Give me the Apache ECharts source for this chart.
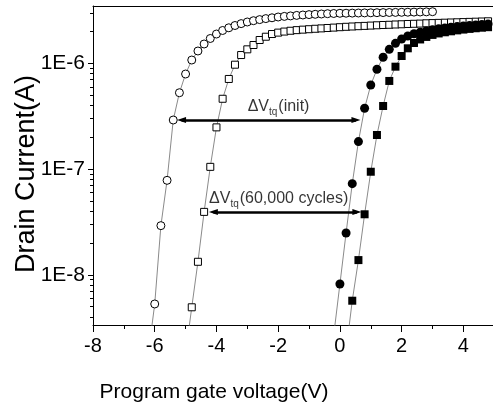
<!DOCTYPE html>
<html><head><meta charset="utf-8">
<script src="https://cdn.jsdelivr.net/npm/echarts@6/dist/echarts.min.js"></script>
<style>html,body{margin:0;padding:0;background:#fff}#c{width:493px;height:405px}</style>
</head><body><div id="c"></div>
<script>
// ---- data (gate voltage V, drain current A) ----
const openCircV = [-6.2,-6.0,-5.8,-5.6,-5.4,-5.2,-5.0,-4.8,-4.6,-4.4,-4.2,-4.0,-3.8,-3.6,-3.4,-3.2,-3.0,-2.8,-2.6,-2.4,-2.2,-2.0,-1.8,-1.6,-1.4,-1.2,-1.0,-0.8,-0.6,-0.4,-0.2,0.0,0.2,0.4,0.6,0.8,1.0,1.2,1.4,1.6,1.8,2.0,2.2,2.4,2.6,2.8,3.0];
const openCircI = [1.86e-9,5.31e-9,2.92e-8,7.83e-8,2.91e-7,5.27e-7,7.92e-7,1.074e-6,1.307e-6,1.522e-6,1.716e-6,1.891e-6,2.042e-6,2.166e-6,2.276e-6,2.372e-6,2.457e-6,2.527e-6,2.588e-6,2.645e-6,2.692e-6,2.739e-6,2.775e-6,2.805e-6,2.836e-6,2.861e-6,2.886e-6,2.905e-6,2.924e-6,2.943e-6,2.956e-6,2.969e-6,2.975e-6,2.982e-6,2.988e-6,2.995e-6,3.001e-6,3.008e-6,3.015e-6,3.021e-6,3.028e-6,3.034e-6,3.041e-6,3.047e-6,3.054e-6,3.064e-6,3.074e-6];

const openSqV = [-5.0,-4.8,-4.6,-4.4,-4.2,-4.0,-3.8,-3.6,-3.4,-3.2,-3.0,-2.8,-2.6,-2.4,-2.2,-2.0,-1.8,-1.6,-1.4,-1.2,-1.0,-0.8,-0.6,-0.4,-0.2,0.0,0.2,0.4,0.6,0.8,1.0,1.2,1.4,1.6,1.8,2.0,2.2,2.4,2.6,2.8,3.0,3.2,3.4,3.6,3.8,4.0,4.2,4.4,4.6,4.8];
const openSqI = [1.8e-9,4.94e-9,1.33e-8,3.94e-8,1.05e-7,2.48e-7,4.62e-7,7.11e-7,9.70e-7,1.197e-6,1.355e-6,1.489e-6,1.660e-6,1.783e-6,1.891e-6,1.950e-6,1.995e-6,2.030e-6,2.058e-6,2.080e-6,2.100e-6,2.120e-6,2.138e-6,2.156e-6,2.175e-6,2.194e-6,2.213e-6,2.228e-6,2.243e-6,2.257e-6,2.272e-6,2.287e-6,2.302e-6,2.312e-6,2.327e-6,2.338e-6,2.353e-6,2.363e-6,2.373e-6,2.389e-6,2.399e-6,2.410e-6,2.420e-6,2.431e-6,2.441e-6,2.452e-6,2.463e-6,2.473e-6,2.484e-6,2.495e-6];

const fillCircV = [-0.2,0.0,0.2,0.4,0.6,0.8,1.0,1.2,1.4,1.6,1.8,2.0,2.2,2.4,2.6,2.8,3.0,3.2,3.4,3.6,3.8,4.0,4.2,4.4,4.6,4.8];
const fillCircI = [2.7e-9,8.20e-9,2.49e-8,7.28e-8,1.82e-7,3.76e-7,6.24e-7,8.78e-7,1.140e-6,1.355e-6,1.545e-6,1.698e-6,1.812e-6,1.900e-6,1.968e-6,2.024e-6,2.073e-6,2.119e-6,2.156e-6,2.189e-6,2.223e-6,2.253e-6,2.277e-6,2.302e-6,2.327e-6,2.353e-6];

const fillSqV = [0.2,0.4,0.6,0.8,1.0,1.2,1.4,1.6,1.8,2.0,2.2,2.4,2.6,2.8,3.0,3.2,3.4,3.6,3.8,4.0,4.2,4.4,4.6,4.8];
const fillSqI = [1.9e-9,5.70e-9,1.38e-8,3.74e-8,9.44e-8,2.10e-7,3.95e-7,6.81e-7,9.29e-7,1.172e-6,1.386e-6,1.556e-6,1.680e-6,1.775e-6,1.854e-6,1.915e-6,1.964e-6,2.006e-6,2.047e-6,2.083e-6,2.114e-6,2.144e-6,2.170e-6,2.194e-6];

// axis ticks
const xMajorTicks = [-8,-6,-4,-2,0,2,4];
const xMinorTicks = [-7,-5,-3,-1,1,3];
const yMajorTicks = [1e-8,1e-7,1e-6];
const yMinorTicks = [4e-9,5e-9,6e-9,7e-9,8e-9,9e-9,2e-8,3e-8,4e-8,5e-8,6e-8,7e-8,8e-8,9e-8,2e-7,3e-7,4e-7,5e-7,6e-7,7e-7,8e-7,9e-7,2e-6,3e-6];
const xRange = [-8, 4.96];
const yRange = [3.36e-9, 3.48e-6];

// annotations: text parts, anchor (V, I), arrow from/to V at current I
const annInit = {main1:'ΔV', sub:'tq', main2:'(init)', V:-2.99, I:3.85e-7, arrowFrom:-5.13, arrowTo:0.52, arrowI:2.91e-7};
const annCyc  = {main1:'ΔV', sub:'tq', main2:'(60,000 cycles)', V:-4.24, I:5.2e-8, arrowFrom:-4.10, arrowTo:0.55, arrowI:3.94e-8};

const lg = Math.log10;
const pairs = (xs, ys) => xs.map((x,i)=>[x, lg(ys[i])]);
const FONT = '"Liberation Sans", Arial, Helvetica, sans-serif';

const chart = echarts.init(document.getElementById('c'), null, {renderer:'canvas'});

function lineSeries(name, xs, ys, symbol, size, filled){
  return {
    name, type:'line', data: pairs(xs, ys), symbol, symbolSize: size,
    clip:true, silent:true, animation:false,
    lineStyle:{color:'#8a8a8a', width:1},
    itemStyle:{color: filled ? '#000' : '#fff', borderColor:'#000', borderWidth: filled ? 0 : 1}
  };
}

const rich = {
  a:{fontSize:16, fontFamily:FONT, color:'#000', lineHeight:18, verticalAlign:'top'},
  s:{fontSize:10, fontFamily:FONT, color:'#000', lineHeight:10, padding:[9,1,0,0], verticalAlign:'top'}
};
function annLabel(a){ return '{a|'+a.main1+'}{s|'+a.sub+'}{a|'+a.main2+'}'; }

const option = {
  animation:false,
  grid:{left:93, right:0, top:6, bottom:80, containLabel:false},
  xAxis:[
    {type:'value', min:xRange[0], max:xRange[1], position:'bottom',
     axisLine:{show:true, onZero:false, lineStyle:{color:'#000', width:1}},
     axisTick:{show:true, inside:false, length:7, customValues:xMajorTicks, lineStyle:{color:'#000', width:1}},
     axisLabel:{customValues:xMajorTicks, fontSize:20, fontFamily:FONT, color:'#000', margin:11,
       formatter:v=>String(v)},
     splitLine:{show:false}},
    {type:'value', min:xRange[0], max:xRange[1], position:'bottom', offset:0,
     axisLine:{show:false, onZero:false}, axisLabel:{show:false}, splitLine:{show:false},
     axisTick:{show:true, length:4, customValues:xMinorTicks, lineStyle:{color:'#000', width:1}}},
    {type:'value', min:xRange[0], max:xRange[1], position:'top', offset:0,
     axisLine:{show:true, onZero:false, lineStyle:{color:'#000', width:1}},
     axisTick:{show:false}, axisLabel:{show:false}, splitLine:{show:false}}
  ],
  yAxis:[
    {type:'value', min:lg(yRange[0]), max:lg(yRange[1]), position:'left',
     axisLine:{show:true, onZero:false, lineStyle:{color:'#000', width:1}},
     axisTick:{show:true, length:5, customValues:yMajorTicks.map(lg), lineStyle:{color:'#000', width:1}},
     axisLabel:{customValues:yMajorTicks.map(lg), fontSize:21, fontFamily:FONT, color:'#000', margin:8,
       formatter:v=>'1E'+Math.round(v)},
     splitLine:{show:false}},
    {type:'value', min:lg(yRange[0]), max:lg(yRange[1]), position:'left', offset:0,
     axisLine:{show:false, onZero:false}, axisLabel:{show:false}, splitLine:{show:false},
     axisTick:{show:true, length:3, customValues:yMinorTicks.map(lg), lineStyle:{color:'#000', width:1}}}
  ],
  series:[
    lineSeries('init-erase', openCircV, openCircI, 'circle', 8, false),
    lineSeries('cyc-erase', openSqV, openSqI, 'rect', 7, false),
    lineSeries('init-prog', fillCircV, fillCircI, 'circle', 9, true),
    lineSeries('cyc-prog', fillSqV, fillSqI, 'rect', 8, true),
    {
      type:'scatter', silent:true, symbolSize:0, z:5,
      data:[
        {value:[annInit.V, lg(annInit.I)], label:{formatter:annLabel(annInit)}},
        {value:[annCyc.V, lg(annCyc.I)], label:{formatter:annLabel(annCyc)}}
      ],
      label:{show:true, position:'right', distance:0, rich},
      markLine:{
        silent:true, animation:false, symbol:['triangle','triangle'], symbolSize:[6,9],
        lineStyle:{color:'#000', width:2.5, type:'solid'}, label:{show:false},
        data:[
          [{coord:[annInit.arrowFrom, lg(annInit.arrowI)]},{coord:[annInit.arrowTo, lg(annInit.arrowI)]}],
          [{coord:[annCyc.arrowFrom, lg(annCyc.arrowI)]},{coord:[annCyc.arrowTo, lg(annCyc.arrowI)]}]
        ]
      }
    }
  ],
  graphic:[
    {type:'text', x:214, y:392, style:{text:'Program gate voltage(V)', fontSize:21, fontFamily:FONT, fill:'#000', align:'center', verticalAlign:'middle'}},
    {type:'text', x:27, y:174, rotation:Math.PI/2, style:{text:'Drain Current(A)', fontSize:27, fontFamily:FONT, fill:'#000', align:'center', verticalAlign:'middle'}}
  ]
};
chart.setOption(option);
</script>
</body></html>
